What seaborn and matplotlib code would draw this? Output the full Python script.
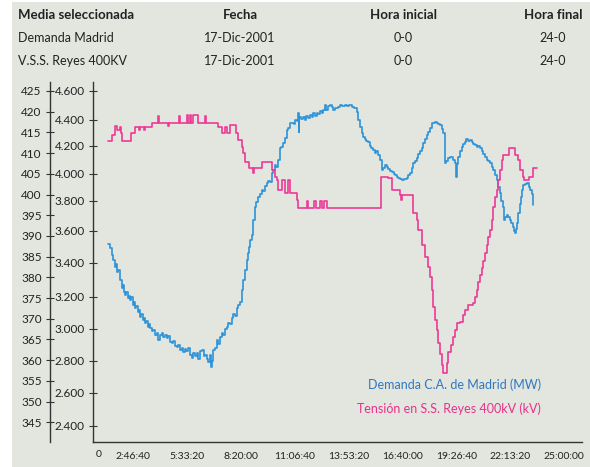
import matplotlib
matplotlib.use('Agg')
import matplotlib.pyplot as plt
import matplotlib.patches as mpatches
from matplotlib.ticker import FixedLocator, FuncFormatter
import numpy as np
import seaborn as sns

# --- header table ---
table_header = ['Media seleccionada', 'Fecha', 'Hora inicial', 'Hora final']
table_rows = [
    ['Demanda Madrid', '17-Dic-2001', '0-0', '24-0'],
    ['V.S.S. Reyes 400KV', '17-Dic-2001', '0-0', '24-0'],
]

# --- Demanda C.A. de Madrid (MW), time in hours ---
blue_hours = [
    1.49, 1.58, 1.67, 1.75, 1.84, 1.90, 1.96, 2.01, 2.10, 2.18,
    2.24, 2.30, 2.35, 2.42, 2.48, 2.55, 2.61, 2.68, 2.75, 2.81,
    2.87, 2.94, 3.00, 3.06, 3.12, 3.20, 3.26, 3.32, 3.38, 3.45,
    3.52, 3.58, 3.64, 3.72, 3.80, 3.90, 3.98, 4.07, 4.15, 4.24,
    4.32, 4.40, 4.50, 4.58, 4.66, 4.76, 4.84, 4.92, 5.02, 5.10,
    5.20, 5.28, 5.36, 5.44, 5.52, 5.61, 5.70, 5.79, 5.86, 5.94,
    6.05, 6.12, 6.20, 6.31, 6.40, 6.48, 6.56, 6.65, 6.72, 6.77,
    6.84, 6.90, 6.98, 7.08, 7.16, 7.25, 7.34, 7.42, 7.50, 7.59,
    7.68, 7.76, 7.85, 7.93, 8.02, 8.11, 8.20, 8.28, 8.37, 8.45,
    8.54, 8.63, 8.70, 8.76, 8.82, 8.88, 8.97, 9.05, 9.12, 9.22,
    9.30, 9.40, 9.48, 9.56, 9.66, 9.74, 9.82, 9.92, 10.00, 10.08,
    10.16, 10.26, 10.34, 10.42, 10.51, 10.60, 10.69, 10.78, 10.86, 10.95,
    11.04, 11.12, 11.20, 11.29, 11.31, 11.33, 11.42, 11.54, 11.62, 11.70,
    11.80, 11.89, 11.98, 12.06, 12.15, 12.24, 12.32, 12.41, 12.50, 12.58,
    12.66, 12.72, 12.80, 12.93, 13.02, 13.10, 13.20, 13.35, 13.45, 13.55,
    13.69, 13.80, 13.92, 14.04, 14.15, 14.30, 14.38, 14.47, 14.55, 14.64,
    14.72, 14.80, 14.90, 14.98, 15.06, 15.15, 15.22, 15.30, 15.41, 15.50,
    15.58, 15.62, 15.67, 15.76, 15.84, 15.92, 16.00, 16.10, 16.20, 16.28,
    16.36, 16.45, 16.55, 16.62, 16.75, 16.88, 16.96, 17.05, 17.13, 17.22,
    17.30, 17.39, 17.48, 17.56, 17.65, 17.72, 17.80, 17.91, 17.98, 18.06,
    18.16, 18.25, 18.33, 18.42, 18.50, 18.59, 18.68, 18.76, 18.85, 18.92,
    19.02, 19.10, 19.19, 19.28, 19.37, 19.42, 19.45, 19.54, 19.62, 19.71,
    19.80, 19.88, 19.96, 20.05, 20.14, 20.22, 20.31, 20.40, 20.48, 20.56,
    20.65, 20.74, 20.82, 20.91, 21.00, 21.08, 21.17, 21.26, 21.34, 21.43,
    21.52, 21.60, 21.69, 21.76, 21.83, 21.90, 21.97, 22.04, 22.12, 22.21,
    22.28, 22.35, 22.42, 22.46, 22.50, 22.55, 22.63, 22.70, 22.76, 22.82,
    22.89, 22.98, 23.07, 23.16, 23.24, 23.32, 23.38, 23.40,
]
blue_mw = [
    3518, 3490, 3450, 3420, 3378, 3395, 3349, 3360, 3300, 3250,
    3270, 3225, 3210, 3230, 3190, 3205, 3180, 3195, 3150, 3165,
    3128, 3140, 3105, 3120, 3076, 3090, 3055, 3070, 3036, 3050,
    3015, 3030, 3005, 2985, 2995, 2963, 2975, 2931, 2960, 2973,
    2950, 2965, 2942, 2955, 2920, 2910, 2925, 2895, 2889, 2900,
    2870, 2880, 2858, 2875, 2860, 2879, 2840, 2817, 2850, 2830,
    2848, 2810, 2860, 2869, 2830, 2838, 2815, 2796, 2840, 2764,
    2800, 2869, 2880, 2931, 2905, 2950, 2973, 2960, 3000, 3014,
    3040, 3030, 3066, 3090, 3080, 3128, 3150, 3169, 3240, 3299,
    3358, 3419, 3460, 3501, 3540, 3573, 3671, 3760, 3790, 3830,
    3850, 3880, 3870, 3910, 3930, 3950, 3940, 4005, 4030, 4064,
    4050, 4099, 4182, 4190, 4219, 4260, 4322, 4340, 4374, 4380,
    4365, 4400, 4390, 4446, 4310, 4420, 4410, 4423, 4400, 4430,
    4415, 4434, 4420, 4445, 4425, 4446, 4440, 4460, 4450, 4469,
    4500, 4470, 4495, 4503, 4490, 4469, 4485, 4492, 4500, 4495,
    4503, 4495, 4500, 4492, 4480, 4457, 4400, 4348, 4300, 4270,
    4255, 4240, 4231, 4200, 4185, 4170, 4150, 4160, 4134, 4100,
    4060, 4030, 4040, 4060, 4052, 4035, 4020, 4016, 4000, 3990,
    3980, 3970, 3960, 3955, 3962, 3968, 3990, 4010, 4040, 4080,
    4095, 4111, 4140, 4165, 4182, 4220, 4250, 4283, 4310, 4340,
    4374, 4380, 4387, 4375, 4365, 4361, 4330, 4296, 4075, 4090,
    4111, 4120, 4122, 4100, 4075, 3980, 4070, 4122, 4160, 4193,
    4215, 4231, 4250, 4240, 4244, 4230, 4215, 4205, 4190, 4195,
    4182, 4160, 4140, 4122, 4100, 4090, 4075, 4050, 4028, 3990,
    3955, 3900, 3855, 3800, 3760, 3671, 3690, 3705, 3690, 3671,
    3650, 3627, 3600, 3584, 3610, 3649, 3716, 3780, 3830, 3880,
    3918, 3925, 3930, 3900, 3880, 3850, 3830, 3771,
]

# --- Tension en S.S. Reyes 400kV (kV) ---
pink_hours = [
    1.49, 1.67, 1.84, 1.92, 2.09, 2.14, 2.21, 2.65, 2.87, 3.05,
    3.10, 3.35, 3.40, 3.73, 3.81, 4.07, 4.12, 4.55, 4.60, 5.15,
    5.20, 5.55, 5.60, 5.70, 5.75, 5.87, 6.13, 6.48, 6.53, 7.16,
    7.34, 7.51, 7.59, 7.76, 8.06, 8.19, 8.37, 8.45, 8.54, 8.76,
    8.94, 9.00, 9.40, 9.92, 10.08, 10.17, 10.26, 10.43, 10.60, 10.77,
    10.86, 11.20, 11.29, 11.72, 11.79, 12.10, 12.20, 12.41, 12.51, 12.60,
    12.75, 15.53, 15.93, 16.10, 16.53, 16.60, 16.66, 17.19, 17.22, 17.39,
    17.47, 17.65, 17.82, 17.99, 18.08, 18.16, 18.25, 18.33, 18.42, 18.50,
    18.59, 18.68, 18.73, 18.94, 19.02, 19.14, 19.25, 19.37, 19.45, 19.62,
    19.79, 19.88, 20.05, 20.31, 20.40, 20.49, 20.57, 20.65, 20.74, 20.83,
    20.91, 21.00, 21.08, 21.17, 21.26, 21.34, 21.43, 21.52, 21.60, 21.69,
    21.77, 21.86, 22.17, 22.46, 22.63, 22.72, 22.86, 22.94, 23.20, 23.40,
    23.58,
]
pink_kv = [
    412.9, 414.4, 416.5, 415.6, 416.4, 414.9, 412.9, 414.9, 416.4, 415.6,
    416.4, 415.6, 416.4, 417.2, 417.3, 419.0, 417.3, 416.5, 417.3, 419.0,
    417.3, 419.2, 417.3, 419.2, 417.3, 419.2, 417.3, 419.0, 417.3, 416.4,
    414.9, 416.4, 414.9, 416.8, 414.9, 413.2, 411.5, 410.0, 407.9, 406.3,
    405.1, 406.3, 407.9, 405.9, 404.3, 403.5, 401.1, 403.5, 400.3, 403.5,
    400.3, 398.7, 396.7, 398.5, 396.7, 398.5, 396.7, 398.5, 396.7, 398.5,
    396.7, 404.3, 403.9, 401.1, 399.9, 398.7, 399.9, 397.5, 395.5, 393.8,
    391.4, 387.8, 385.0, 382.6, 380.1, 376.9, 372.9, 369.7, 367.3, 364.1,
    361.6, 358.8, 356.8, 359.2, 362.0, 363.6, 365.7, 367.3, 368.9, 369.3,
    370.9, 372.1, 373.3, 373.7, 375.3, 376.9, 378.9, 380.6, 382.2, 384.0,
    385.8, 387.8, 389.8, 391.4, 393.8, 397.1, 399.5, 401.1, 403.5, 405.9,
    408.3, 409.5, 411.2, 409.5, 408.3, 405.9, 404.3, 403.5, 404.3, 406.3,
    406.3,
]

# axis ticks
mw_ticks = [2400, 2600, 2800, 3000, 3200, 3400, 3600, 3800, 4000, 4200, 4400, 4600]
kv_ticks = list(range(345, 426, 5))
time_ticks_s = list(range(10000, 90001, 10000))

# the MW axis of the original is not evenly spaced; these are the
# tick heights (in pixels from the top) used to build the scale
mw_scale_vals = np.array([2000] + mw_ticks + [5000])
mw_scale_pix = np.array([491.7, 425.7, 392.7, 361, 329, 296.7, 263, 230.7,
                         200.7, 174, 145.7, 120, 91, 33])

BG = '#e3e5df'
BLUE = '#2d93d8'
PINK = '#ec3a95'
BLUE_TXT = '#2f78c0'
PINK_TXT = '#e8328c'
AX_COL = '#333333'

sns.set_theme(style='white')
plt.rcParams['font.family'] = ['Lato', 'DejaVu Sans']


def mw_fwd(v):
    return np.interp(v, mw_scale_vals, -mw_scale_pix)


def mw_inv(u):
    return np.interp(u, -mw_scale_pix, mw_scale_vals)


def hms(x, pos=None):
    s = int(round(x * 3600))
    return f'{s // 3600}:{(s % 3600) // 60:02d}:{s % 60:02d}'


W, H = 590, 467
fig = plt.figure(figsize=(W / 100, H / 100), dpi=100)
fig.patch.set_facecolor('white')
fig.add_artist(mpatches.Rectangle((12 / W, 0), 1, 1 - 2 / H, transform=fig.transFigure,
                                  facecolor=BG, edgecolor='none', zorder=-10))

# header table
col_x = [18, 240, 403, 553]
col_ha = ['left', 'center', 'center', 'center']
for j, txt in enumerate(table_header):
    fig.text(col_x[j] / W, 1 - 15 / H, txt, ha=col_ha[j], va='center',
             fontsize=9.5, fontweight='bold', color='#222222')
for i, row in enumerate(table_rows):
    for j, txt in enumerate(row):
        fig.text(col_x[j] / W, 1 - (38 + 23 * i) / H, txt, ha=col_ha[j], va='center',
                 fontsize=9, color='#222222')

ax = fig.add_axes([93 / W, 25 / H, 489 / W, 360 / H])
ax.set_facecolor('none')
ax.set_yscale('function', functions=(mw_fwd, mw_inv))
sns.lineplot(x=blue_hours, y=blue_mw, ax=ax, color=BLUE, linewidth=1.2,
             drawstyle='steps-post', sort=False)

ax2 = ax.twinx()
ax2.set_facecolor('none')
sns.lineplot(x=pink_hours, y=pink_kv, ax=ax2, color=PINK, linewidth=1.2,
             drawstyle='steps-post', sort=False)

ax.set_xlim(2520 / 3600, 93300 / 3600)
ax.set_ylim(2301, 4662)
ax2.set_ylim(340.24, 427.17)

ax.xaxis.set_major_locator(FixedLocator([t / 3600 for t in time_ticks_s]))
ax.xaxis.set_major_formatter(FuncFormatter(hms))
ax.yaxis.set_major_locator(FixedLocator(mw_ticks))
ax.yaxis.set_major_formatter(FuncFormatter(lambda v, p: f'{v / 1000:.3f}'))
ax2.yaxis.set_major_locator(FixedLocator(kv_ticks))

for s in ['top', 'right']:
    ax.spines[s].set_visible(False)
for s in ['top', 'right', 'bottom']:
    ax2.spines[s].set_visible(False)
ax2.spines['left'].set_visible(True)
ax2.spines['left'].set_position(('outward', 31))
ax2.yaxis.set_ticks_position('left')
ax2.yaxis.set_label_position('left')
for a in (ax, ax2):
    for s in a.spines.values():
        s.set_color(AX_COL)
        s.set_linewidth(1.0)
ax.set_xlabel('')
ax.set_ylabel('')
ax2.set_ylabel('')

ax.tick_params(axis='x', direction='in', length=6, width=0.8, color=AX_COL,
               labelsize=7.5, pad=7, labelcolor='#222222')
ax.tick_params(axis='y', direction='inout', length=6, width=0.8, color=AX_COL,
               labelsize=8.5, pad=3, labelcolor='#222222', left=True)
ax2.tick_params(axis='y', direction='inout', length=6, width=0.8, color=AX_COL,
                labelsize=8.5, pad=3, labelcolor='#222222', left=True, right=False,
                labelleft=True, labelright=False)
ax.text(0.0123, -0.036, '0', transform=ax.transAxes, ha='center', va='center',
        fontsize=7.5, color='#222222')

fig.text(541 / W, 1 - 385 / H, 'Demanda C.A. de Madrid (MW)', ha='right', va='center',
         fontsize=9, color=BLUE_TXT)
fig.text(541 / W, 1 - 409 / H, 'Tensión en S.S. Reyes 400kV (kV)', ha='right', va='center',
         fontsize=9, color=PINK_TXT)

fig.savefig('out.png', dpi=100, facecolor=fig.get_facecolor())
